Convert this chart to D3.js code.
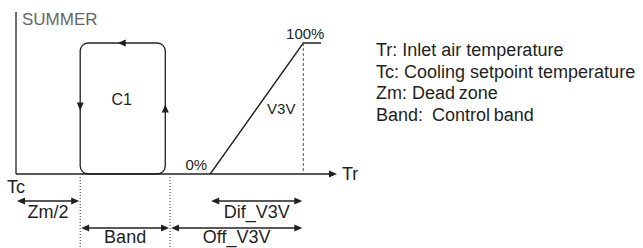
<!DOCTYPE html>
<html>
<head>
<meta charset="utf-8">
<script src="https://cdn.jsdelivr.net/npm/d3@7"></script>
<style>
body{margin:0;background:#fff;}
text{font-family:"Liberation Sans",Arial,sans-serif;}
</style>
</head>
<body>
<div id="chart"></div>
<script>
// Tr axis positions (arbitrary units, Tc = 0)
var loopX = [2.0, 4.65];          // C1 hysteresis loop, left / right
var loopY = [0, 100];
var rampX = [6.05, 8.95, 9.5];    // V3V output ramp
var rampY = [0, 100, 100];
var rampLabels = ["0%", "100%"];
var guideX = [2.0, 4.8];          // dotted guides under the axis
var dimNames = ["Zm/2", "Dif_V3V", "Band", "Off_V3V"];
var dimFrom = [0, 6.05, 2.0, 4.8];
var dimTo = [2.0, 8.95, 4.8, 8.95];
var dimRow = [0, 0, 1, 1];
var legendLabels = [
    "Tr: Inlet air temperature",
    "Tc: Cooling setpoint temperature",
    "Zm: Dead\u2009zone",
    "Band:\u2002Control\u2009band"
];

var W = 643, H = 248,
    ink = "#231f20",
    fontBig = 18,
    fontSmall = 15,
    head = 8, half = 3.5;

var svg = d3.select("#chart").append("svg")
    .attr("width", W).attr("height", H);

var x = d3.scaleLinear().domain([0, 10]).range([16, 337]);
var y = d3.scaleLinear().domain([0, 100]).range([174, 43]);

// filled triangle, tip at (px,py), pointing dir: "l","r","u","d"
function tri(px, py, dir) {
    var p = d3.path();
    p.moveTo(px, py);
    if (dir == "r") { p.lineTo(px - head, py - half); p.lineTo(px - head, py + half); }
    if (dir == "l") { p.lineTo(px + head, py - half); p.lineTo(px + head, py + half); }
    if (dir == "u") { p.lineTo(px - half, py + head); p.lineTo(px + half, py + head); }
    if (dir == "d") { p.lineTo(px - half, py - head); p.lineTo(px + half, py - head); }
    p.closePath();
    return p.toString();
}

// axes
svg.append("line").attr("x1", x(0)).attr("x2", x(0))
    .attr("y1", 12).attr("y2", y(0))
    .attr("stroke", ink).attr("stroke-width", 1.3);
svg.append("line").attr("x1", x(0)).attr("x2", x(10) - 4)
    .attr("y1", y(0)).attr("y2", y(0))
    .attr("stroke", ink).attr("stroke-width", 1.3);
svg.append("path").attr("d", tri(x(10), y(0), "r")).attr("fill", ink);
svg.append("text").attr("x", x(10) + 5).attr("y", y(0) + 6)
    .attr("font-size", fontBig).attr("fill", ink).text("Tr");
svg.append("text").attr("x", 7).attr("y", 193)
    .attr("font-size", fontBig).attr("fill", ink).text("Tc");
svg.append("text").attr("x", 22).attr("y", 25)
    .attr("font-size", 17).attr("fill", "#666").text("SUMMER");

// C1 loop, rounded corners
var r = 8,
    lx = x(loopX[0]), rx = x(loopX[1]),
    ty = y(loopY[1]), by = y(loopY[0]);
var lp = d3.path();
lp.moveTo(lx + r, ty);
lp.lineTo(rx - r, ty);
lp.arcTo(rx, ty, rx, ty + r, r);
lp.lineTo(rx, by - r);
lp.arcTo(rx, by, rx - r, by, r);
lp.lineTo(lx + r, by);
lp.arcTo(lx, by, lx, by - r, r);
lp.lineTo(lx, ty + r);
lp.arcTo(lx, ty, lx + r, ty, r);
svg.append("path").attr("d", lp.toString())
    .attr("fill", "none").attr("stroke", ink).attr("stroke-width", 1.3);
svg.append("path").attr("d", tri((lx + rx) / 2 - 5, ty, "l")).attr("fill", ink);
svg.append("path").attr("d", tri(lx, (ty + by) / 2 + 2, "d")).attr("fill", ink);
svg.append("path").attr("d", tri(rx, (ty + by) / 2 - 4, "u")).attr("fill", ink);
svg.append("text").attr("x", (lx + rx) / 2 - 1).attr("y", 105)
    .attr("text-anchor", "middle").attr("font-size", 16)
    .attr("fill", ink).text("C1");

// V3V ramp
var line = d3.line().x(function(d){ return x(d[0]); }).y(function(d){ return y(d[1]); });
svg.append("path").attr("d", line(d3.zip(rampX, rampY)))
    .attr("fill", "none").attr("stroke", ink).attr("stroke-width", 1.3);
svg.append("line").attr("x1", x(rampX[1])).attr("x2", x(rampX[1]))
    .attr("y1", y(100)).attr("y2", y(0))
    .attr("stroke", "#555").attr("stroke-width", 1).attr("stroke-dasharray", "3,2");
svg.append("text").attr("x", x(rampX[0]) - 3).attr("y", y(0) - 4)
    .attr("text-anchor", "end").attr("font-size", fontSmall).attr("fill", ink)
    .text(rampLabels[0]);
svg.append("text").attr("x", x(rampX[1]) + 2).attr("y", y(100) - 4)
    .attr("text-anchor", "middle").attr("font-size", fontSmall).attr("fill", ink)
    .text(rampLabels[1]);
svg.append("text").attr("x", x(rampX[1]) - 22).attr("y", 114)
    .attr("text-anchor", "middle").attr("font-size", fontSmall).attr("fill", ink)
    .text("V3V");

// dotted guides
svg.selectAll(".guide").data(guideX).enter().append("line")
    .attr("class", "guide")
    .attr("x1", function(d){ return x(d); }).attr("x2", function(d){ return x(d); })
    .attr("y1", y(0)).attr("y2", H)
    .attr("stroke", "#333").attr("stroke-width", 1).attr("stroke-dasharray", "1,2");

// dimension arrows
var rowArrowY = [201, 228], rowTextY = [218, 243];
var dims = svg.selectAll(".dim").data(dimNames).enter().append("g").attr("class", "dim");
dims.each(function(name, i) {
    var g = d3.select(this),
        x1 = x(dimFrom[i]) + 1, x2 = x(dimTo[i]) - 1,
        yy = rowArrowY[dimRow[i]];
    g.append("line").attr("x1", x1 + 4).attr("x2", x2 - 4)
        .attr("y1", yy).attr("y2", yy)
        .attr("stroke", ink).attr("stroke-width", 1.3);
    g.append("path").attr("d", tri(x1, yy, "l")).attr("fill", ink);
    g.append("path").attr("d", tri(x2, yy, "r")).attr("fill", ink);
    g.append("text").attr("x", (x1 + x2) / 2).attr("y", rowTextY[dimRow[i]])
        .attr("text-anchor", "middle").attr("font-size", fontBig).attr("fill", ink)
        .text(name);
});

// legend
svg.selectAll(".legend").data(legendLabels).enter().append("text")
    .attr("class", "legend")
    .attr("x", 376)
    .attr("y", function(d, i){ return 56 + i * 21.5; })
    .attr("font-size", fontBig).attr("fill", ink)
    .text(function(d){ return d; });
</script>
</body>
</html>
